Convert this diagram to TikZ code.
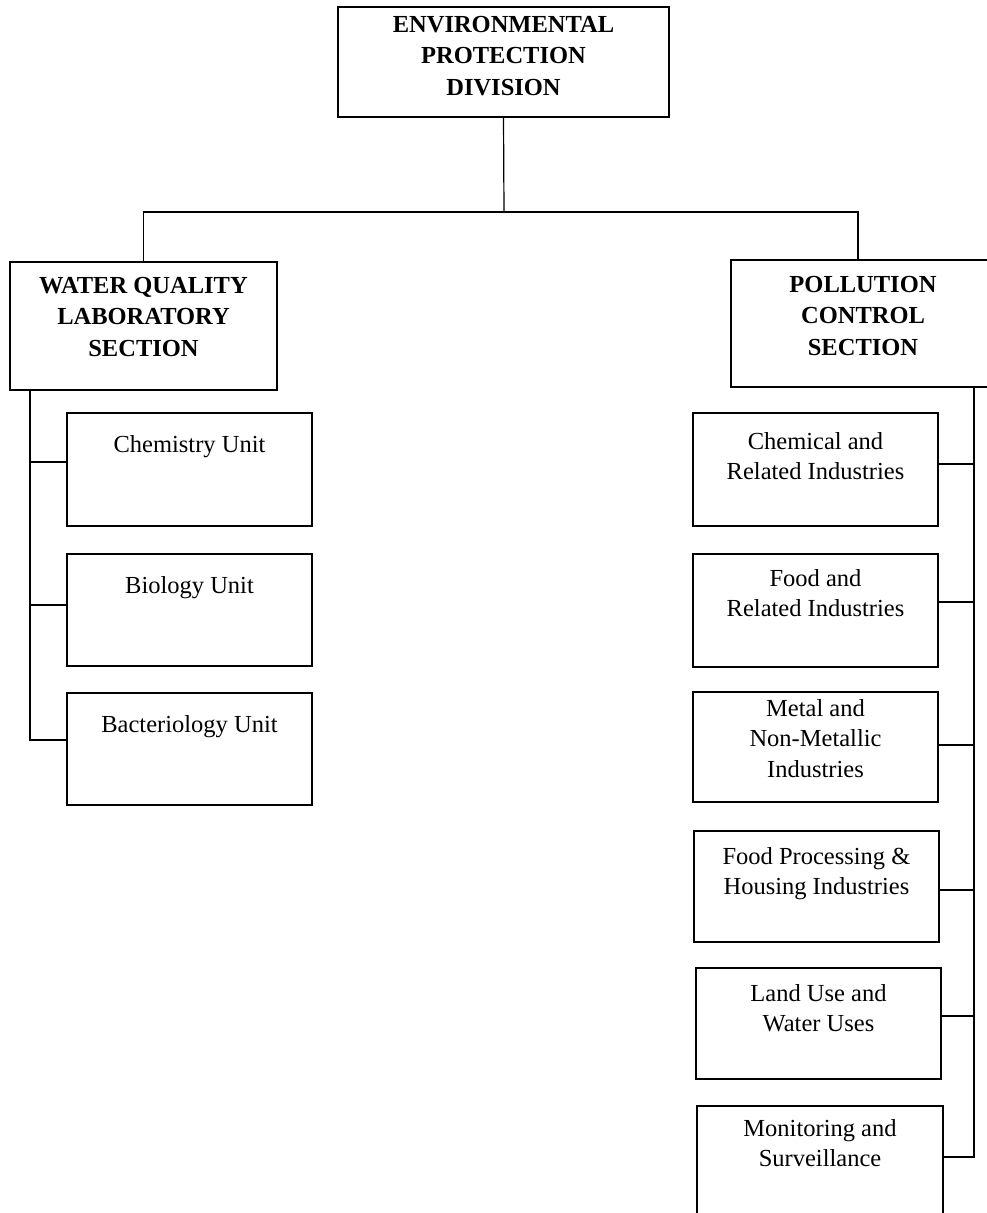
\documentclass[tikz,border=0pt]{standalone}
\usepackage{fontspec}
\setmainfont{Liberation Serif}
\begin{document}
\begin{tikzpicture}[x=1pt,y=-1pt,
  every node/.style={inner sep=0pt, outer sep=0pt},
  box/.style={draw, line width=1.2pt, rectangle},
  unitbox/.style={box, minimum width=245, minimum height=112},
  lab/.style={anchor=north, align=center, font=\fontsize{24.5}{30.5}\selectfont},
  headlab/.style={lab, font=\fontsize{24.5}{31.5}\selectfont\bfseries},
  link/.style={line width=1.2pt}]
\useasboundingbox (0,0) rectangle (987,1213);
\clip (0,0) rectangle (987,1213);

% division and sections
\node[box, minimum width=331, minimum height=110] (div) at (503.5,62) {};
\node[headlab] (divt) at ([yshift=-9pt]div.north) {ENVIRONMENTAL\\PROTECTION\\DIVISION};

\node[box, minimum width=267, minimum height=128] (wq) at (143.5,326) {};
\node[headlab] (wqt) at ([yshift=-15pt]wq.north) {WATER QUALITY\\LABORATORY\\SECTION};

\node[box, minimum width=264, minimum height=127] (pc) at (863,323.5) {};
\node[headlab] (pct) at ([yshift=-16pt]pc.north) {POLLUTION\\CONTROL\\SECTION};

% laboratory units
\node[unitbox, minimum height=113] (chem) at (189.5,469.5) {};
\node[lab] (chemt) at ([yshift=-22pt]chem.north) {Chemistry Unit};
\node[unitbox] (bio) at (189.5,610) {};
\node[lab] (biot) at ([yshift=-22pt]bio.north) {Biology Unit};
\node[unitbox] (bact) at (189.5,749) {};
\node[lab] (bactt) at ([yshift=-22pt]bact.north) {Bacteriology Unit};

% pollution control units
\node[unitbox, minimum height=113] (cri) at (815.5,469.5) {};
\node[lab] (crit) at ([yshift=-19pt]cri.north) {Chemical and\\Related Industries};
\node[unitbox, minimum height=113] (fri) at (815.5,610.5) {};
\node[lab] (frit) at ([yshift=-15pt]fri.north) {Food and\\Related Industries};
\node[unitbox, minimum height=110] (mni) at (815.5,747) {};
\node[lab] (mnit) at ([yshift=-7pt]mni.north) {Metal and\\Non-Metallic\\Industries};
\node[unitbox, minimum height=111] (fph) at (816.5,886.5) {};
\node[lab] (fpht) at ([yshift=-16pt]fph.north) {Food Processing \&\\Housing Industries};
\node[unitbox, minimum height=111] (luw) at (818.5,1023.5) {};
\node[lab] (luwt) at ([yshift=-16pt]luw.north) {Land Use and\\Water Uses};
\node[unitbox, minimum width=246] (mon) at (820,1162) {};
\node[lab] (mont) at ([yshift=-13pt]mon.north) {Monitoring and\\Surveillance};

% connectors
\coordinate (bus) at (504,212);
\coordinate (lspine) at (30,390);
\coordinate (rspine) at (974,387);
\draw[link] (div.south) -- (bus);
\draw[link] (wq.north) |- (bus) -| ([xshift=-5pt]pc.north);

\draw[link] (lspine) |- ([yshift=9pt]bact.west);
\draw[link] (lspine |- chem.west) ++(0,-7.5) -- ([yshift=7.5pt]chem.west);
\draw[link] (lspine |- bio.west) ++(0,-5) -- ([yshift=5pt]bio.west);

\draw[link] (rspine) |- ([yshift=5pt]mon.east);
\draw[link] ([yshift=5.5pt]cri.east) -| (rspine);
\draw[link] ([yshift=8.5pt]fri.east) -- ([yshift=8.5pt]fri.east -| rspine);
\draw[link] ([yshift=2pt]mni.east) -- ([yshift=2pt]mni.east -| rspine);
\draw[link] ([yshift=-3.5pt]fph.east) -- ([yshift=-3.5pt]fph.east -| rspine);
\draw[link] ([yshift=7.5pt]luw.east) -- ([yshift=7.5pt]luw.east -| rspine);
\end{tikzpicture}
\end{document}
